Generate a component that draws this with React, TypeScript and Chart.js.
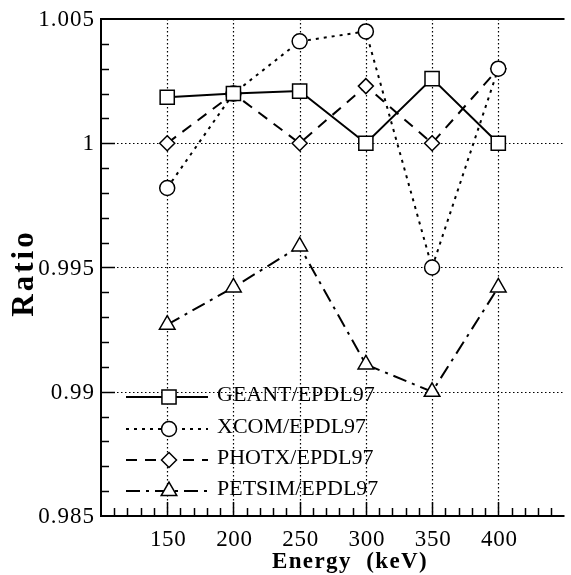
import React, { useEffect, useRef } from "react";
import { Chart, registerables } from "chart.js";
import { drawPoint } from "chart.js/helpers";

Chart.register(...registerables);

// Photon energies (keV) and the ratio of each code to EPDL97
const energies = [150, 200, 250, 300, 350, 400];
const geant = [1.00185, 1.002, 1.0021, 1.0, 1.0026, 1.0];
const xcom = [0.9982, 1.002, 1.0041, 1.0045, 0.995, 1.003];
const photx = [1.0, 1.002, 1.0, 1.0023, 1.0, 1.003];
const petsim = [0.9927, 0.9942, 0.99585, 0.9911, 0.99, 0.9942];

const seriesNames = ["GEANT/EPDL97", "XCOM/EPDL97", "PHOTX/EPDL97", "PETSIM/EPDL97"];
const xTickLabels = [150, 200, 250, 300, 350, 400];
const yTickLabels = [0.985, 0.99, 0.995, 1, 1.005];
const yGridValues = [0.99, 0.995, 1];

const X_MIN = 100;
const X_MAX = 450;
const Y_MIN = 0.985;
const Y_MAX = 1.005;

const SERIF = '"Liberation Serif", "Times New Roman", serif';

const seriesStyles = [
  { dash: [] as number[], pointStyle: "rect", radius: 10 },
  { dash: [3, 5], pointStyle: "circle", radius: 7.5 },
  { dash: [11, 8], pointStyle: "rectRot", radius: 7.5 },
  { dash: [14, 6, 3, 6], pointStyle: "triangle", radius: 9 },
];

const seriesValues = [geant, xcom, photx, petsim];

function setSpacing(ctx: CanvasRenderingContext2D, px: number) {
  (ctx as any).letterSpacing = `${px}px`;
}

const framePlugin = {
  id: "frameAndGrid",
  beforeDatasetsDraw(chart: any) {
    const { ctx, chartArea: a, scales } = chart;
    const x = scales.x;
    const y = scales.y;
    ctx.save();
    ctx.strokeStyle = "#000";

    // dotted grid
    ctx.lineWidth = 1.2;
    ctx.setLineDash([1.5, 2.5]);
    for (const v of xTickLabels) {
      const px = Math.round(x.getPixelForValue(v)) + 0.5;
      ctx.beginPath();
      ctx.moveTo(px, a.top);
      ctx.lineTo(px, a.bottom);
      ctx.stroke();
    }
    for (const v of yGridValues) {
      const py = Math.round(y.getPixelForValue(v)) + 0.5;
      ctx.beginPath();
      ctx.moveTo(a.left, py);
      ctx.lineTo(a.right, py);
      ctx.stroke();
    }
    ctx.setLineDash([]);

    // inward ticks on the left axis
    ctx.lineWidth = 1.5;
    for (let k = 1; k < 20; k++) {
      const v = Y_MIN + k * 0.001;
      const len = k % 5 === 0 ? 14 : 8;
      const py = Math.round(y.getPixelForValue(v)) + 0.5;
      ctx.beginPath();
      ctx.moveTo(a.left, py);
      ctx.lineTo(a.left + len, py);
      ctx.stroke();
    }
    // inward ticks on the bottom axis
    for (let v = X_MIN + 10; v < X_MAX; v += 10) {
      const len = v % 50 === 0 && v >= 150 && v <= 400 ? 14 : 8;
      const px = Math.round(x.getPixelForValue(v)) + 0.5;
      ctx.beginPath();
      ctx.moveTo(px, a.bottom);
      ctx.lineTo(px, a.bottom - len);
      ctx.stroke();
    }

    // frame
    ctx.lineWidth = 2;
    ctx.beginPath();
    ctx.moveTo(a.right, a.top);
    ctx.lineTo(a.left, a.top);
    ctx.lineTo(a.left, a.bottom);
    ctx.lineTo(a.right, a.bottom);
    ctx.stroke();
    ctx.restore();
  },
  afterDraw(chart: any) {
    const { ctx, chartArea: a, scales } = chart;
    const x = scales.x;
    const y = scales.y;
    ctx.save();
    ctx.fillStyle = "#000";

    // tick labels
    ctx.font = `23px ${SERIF}`;
    setSpacing(ctx, 1);
    ctx.textAlign = "right";
    ctx.textBaseline = "middle";
    for (const v of yTickLabels) {
      ctx.fillText(String(+v.toFixed(3)), a.left - 6, y.getPixelForValue(v) + 1);
    }
    ctx.textAlign = "center";
    ctx.textBaseline = "top";
    setSpacing(ctx, 0.7);
    for (const v of xTickLabels) {
      ctx.fillText(String(v), x.getPixelForValue(v) + 1, a.bottom + 12);
    }

    // axis titles
    ctx.font = `bold 23px ${SERIF}`;
    setSpacing(ctx, 1.4);
    ctx.textAlign = "center";
    ctx.textBaseline = "alphabetic";
    ctx.fillText("Energy  (keV)", 350, a.bottom + 52);

    ctx.save();
    ctx.translate(33, 274);
    ctx.rotate(-Math.PI / 2);
    ctx.font = `bold 31px ${SERIF}`;
    setSpacing(ctx, 3);
    ctx.fillText("Ratio", 1, 0);
    ctx.restore();

    // legend
    setSpacing(ctx, 0);
    ctx.font = `22px ${SERIF}`;
    ctx.textAlign = "left";
    ctx.textBaseline = "middle";
    const rowY = [397, 429, 460, 491];
    seriesNames.forEach((name, i) => {
      const st = seriesStyles[i];
      const yy = rowY[i];
      ctx.strokeStyle = "#000";
      ctx.lineWidth = 2;
      ctx.setLineDash(st.dash);
      ctx.beginPath();
      ctx.moveTo(126, yy);
      ctx.lineTo(208, yy);
      ctx.stroke();
      ctx.setLineDash([]);
      ctx.fillStyle = "#fff";
      ctx.lineWidth = 1.5;
      drawPoint(ctx, { pointStyle: st.pointStyle as any, radius: st.radius, rotation: 0, borderWidth: 1.5 }, 169, yy);
      ctx.fillStyle = "#000";
      ctx.fillText(name, 217, yy - 2);
    });
    ctx.restore();
  },
};

export default function App() {
  const canvasRef = useRef<HTMLCanvasElement | null>(null);

  useEffect(() => {
    const canvas = canvasRef.current;
    if (!canvas) return;
    const chart = new Chart(canvas, {
      type: "line",
      data: {
        datasets: seriesNames.map((name, i) => ({
          label: name,
          data: energies.map((e, j) => ({ x: e, y: seriesValues[i][j] })),
          borderColor: "#000",
          borderWidth: 2,
          borderDash: seriesStyles[i].dash,
          pointStyle: seriesStyles[i].pointStyle as any,
          pointRadius: seriesStyles[i].radius,
          pointBorderWidth: 1.5,
          pointBorderColor: "#000",
          pointBackgroundColor: "#fff",
          fill: false,
          tension: 0,
        })),
      },
      options: {
        responsive: false,
        animation: false,
        devicePixelRatio: 1,
        layout: { padding: { left: 101, top: 19, right: 3, bottom: 59 } },
        plugins: {
          legend: { display: false },
          title: { display: false },
          tooltip: { enabled: false },
        },
        scales: {
          x: { type: "linear", min: X_MIN, max: X_MAX, display: false },
          y: { type: "linear", min: Y_MIN, max: Y_MAX, display: false },
        },
      },
      plugins: [framePlugin],
    });
    return () => chart.destroy();
  }, []);

  return (
    <div
      style={{
        position: "fixed",
        left: 0,
        top: 0,
        width: 571,
        height: 575,
        overflow: "hidden",
        background: "#fff",
      }}
    >
      <canvas ref={canvasRef} width={576} height={575} style={{ display: "block" }} />
    </div>
  );
}
